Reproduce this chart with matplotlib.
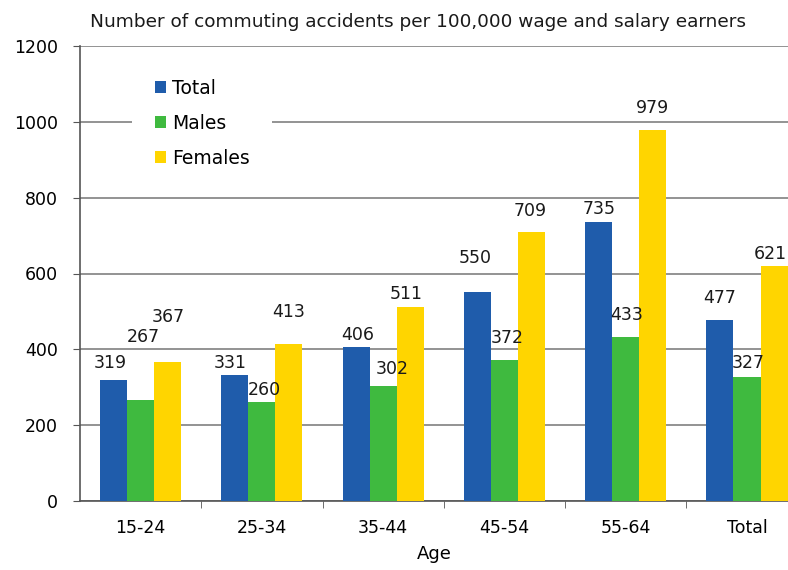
import matplotlib.pyplot as plt
import numpy as np

ages = ['15-24', '25-34', '35-44', '45-54', '55-64', 'Total']
total = [319, 331, 406, 550, 735, 477]
males = [267, 260, 302, 372, 433, 327]
females = [367, 413, 511, 709, 979, 621]

series = [('Total', total, '#1f5cab'),
          ('Males', males, '#3fba3f'),
          ('Females', females, '#ffd500')]

# label nudges in pixels (dx, gap above bar top), per series / group
nudge = [
    [(-3, 17), (-5, 12), (2, 12), (-2, 34), (0, 13), (0, 22)],
    [(3, 63), (2, 12), (9, 17), (3, 22), (1, 22), (1, 14)],
    [(1, 45), (0, 32), (-4, 13), (-1, 21), (0, 22), (-4, 12)],
]

fig = plt.figure(figsize=(7.88, 5.70), dpi=100)
ax = fig.add_axes([80 / 788, 1 - 501 / 570, 1 - 80 / 788, 455 / 570])

x = np.arange(len(ages))
w = 0.223
px = 0.72  # pixels -> points at 100 dpi

for i, (name, vals, col) in enumerate(series):
    pos = x + (i - 1) * w
    ax.bar(pos, vals, w, color=col, label=name, zorder=3)
    for j, v in enumerate(vals):
        dx, dy = nudge[i][j]
        ax.annotate(str(v), (pos[j], v), xytext=(dx * px, dy * px),
                    textcoords='offset points', ha='center', va='center',
                    fontsize=12.5, color='#1a1a1a', zorder=5,
                    annotation_clip=False)

ax.set_xlim(-0.5, 5.338)
ax.set_ylim(0, 1200)
ax.set_yticks(range(0, 1201, 200))
ax.yaxis.grid(True, color='#8a8a8a', lw=1.3, zorder=0)
ax.set_axisbelow(True)

ax.set_xticks(x)
ax.set_xticklabels(ages)
ax.set_xticks(np.arange(0.5, 5.5, 1), minor=True)
ax.tick_params(axis='x', which='major', length=0, pad=13, labelsize=12.5)
ax.tick_params(axis='x', which='minor', length=5, color='#555555', direction='out')
ax.tick_params(axis='y', length=5, color='#555555', pad=11, labelsize=12.5)

for s in ['top', 'right']:
    ax.spines[s].set_visible(False)
ax.spines['left'].set_color('#555555')
ax.spines['bottom'].set_color('#555555')
ax.spines['left'].set_linewidth(1.2)
ax.spines['bottom'].set_linewidth(1.2)

ax.set_xlabel('Age', fontsize=13, labelpad=6)

leg = ax.legend(loc='upper left', bbox_to_anchor=(0.074, 0.977), fontsize=13.5,
                handlelength=0.6, handleheight=0.6, handletextpad=0.3,
                labelspacing=0.85, borderpad=1.2, borderaxespad=0,
                frameon=True, fancybox=False)
leg.get_frame().set_facecolor('white')
leg.get_frame().set_edgecolor('none')
leg.get_frame().set_alpha(1)

fig.text(418 / 788, 1 - 22 / 570,
         'Number of commuting accidents per 100,000 wage and salary earners',
         ha='center', va='center', fontsize=13.3, color='#1a1a1a')

fig.savefig('out.png', dpi=100)
